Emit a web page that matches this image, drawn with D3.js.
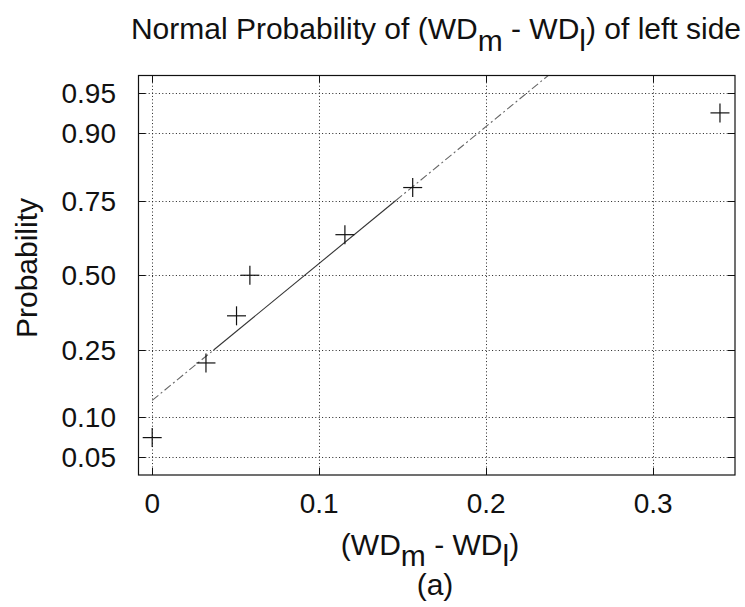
<!DOCTYPE html>
<html>
<head>
<meta charset="utf-8">
<script src="https://cdn.jsdelivr.net/npm/d3@7"></script>
<style>
  html, body { margin: 0; padding: 0; background: #fff; }
  svg { display: block; }
  text { font-family: "Liberation Sans", Arial, sans-serif; fill: #111; }
</style>
</head>
<body>
<svg id="chart" width="745" height="607"></svg>
<script>
// ---- data ----
const dataX = [0, 0.0322, 0.0505, 0.0585, 0.1154, 0.156, 0.340];
const dataP = [0.0714, 0.2143, 0.3571, 0.5, 0.6429, 0.7857, 0.9286];
const quartileX = [0.0368, 0.1459];      // 25th / 75th percentile of data
const quartileP = [0.25, 0.75];
const xTicks = [0, 0.1, 0.2, 0.3];
const xTickLabels = ["0", "0.1", "0.2", "0.3"];
const yTicks = [0.05, 0.10, 0.25, 0.50, 0.75, 0.90, 0.95];
const yTickLabels = ["0.05", "0.10", "0.25", "0.50", "0.75", "0.90", "0.95"];
const xDomain = [-0.0082, 0.349];
const pDomain = [0.0357, 0.9643];

// inverse standard normal CDF (Acklam)
function probit(p) {
  const a = [-3.969683028665376e+01, 2.209460984245205e+02, -2.759285104469687e+02, 1.383577518672690e+02, -3.066479806614716e+01, 2.506628277459239e+00];
  const b = [-5.447609879822406e+01, 1.615858368580409e+02, -1.556989798598866e+02, 6.680131188771972e+01, -1.328068155288572e+01];
  const c = [-7.784894002430293e-03, -3.223964580411365e-01, -2.400758277161838e+00, -2.549732539343734e+00, 4.374664141464968e+00, 2.938163982698783e+00];
  const d = [7.784695709041462e-03, 3.224671290700398e-01, 2.445134137142996e+00, 3.754408661907416e+00];
  const pl = 0.02425, ph = 1 - pl;
  let q, r;
  if (p < pl) {
    q = Math.sqrt(-2 * Math.log(p));
    return (((((c[0]*q+c[1])*q+c[2])*q+c[3])*q+c[4])*q+c[5]) / ((((d[0]*q+d[1])*q+d[2])*q+d[3])*q+1);
  } else if (p <= ph) {
    q = p - 0.5; r = q*q;
    return (((((a[0]*r+a[1])*r+a[2])*r+a[3])*r+a[4])*r+a[5])*q / (((((b[0]*r+b[1])*r+b[2])*r+b[3])*r+b[4])*r+1);
  } else {
    q = Math.sqrt(-2 * Math.log(1 - p));
    return -(((((c[0]*q+c[1])*q+c[2])*q+c[3])*q+c[4])*q+c[5]) / ((((d[0]*q+d[1])*q+d[2])*q+d[3])*q+1);
  }
}

const L = 138.5, R = 735, T = 75.5, B = 475;
const svg = d3.select("#chart");

const x = d3.scaleLinear().domain(xDomain).range([L, R]);
const z = d3.scaleLinear().domain(pDomain.map(probit)).range([B, T]);
const y = p => z(probit(p));

svg.append("defs").append("clipPath").attr("id", "clip")
  .append("rect").attr("x", L).attr("y", T).attr("width", R - L).attr("height", B - T);

// grid
const grid = svg.append("g").attr("stroke", "#222").attr("stroke-width", 1)
  .attr("stroke-dasharray", "1,2.4");
grid.selectAll("line.vx").data(xTicks).join("line")
  .attr("x1", d => Math.round(x(d)) + 0.5).attr("x2", d => Math.round(x(d)) + 0.5)
  .attr("y1", T).attr("y2", B);
grid.selectAll("line.hy").data(yTicks).join("line")
  .attr("y1", d => Math.round(y(d)) + 0.5).attr("y2", d => Math.round(y(d)) + 0.5)
  .attr("x1", L).attr("x2", R);

// inward ticks
const tl = 7;
const ticks = svg.append("g").attr("stroke", "#111").attr("stroke-width", 1);
xTicks.forEach(t => {
  const px = Math.round(x(t)) + 0.5;
  ticks.append("line").attr("x1", px).attr("x2", px).attr("y1", B).attr("y2", B - tl);
  ticks.append("line").attr("x1", px).attr("x2", px).attr("y1", T).attr("y2", T + tl);
});
yTicks.forEach(t => {
  const py = Math.round(y(t)) + 0.5;
  ticks.append("line").attr("x1", L).attr("x2", L + tl).attr("y1", py).attr("y2", py);
  ticks.append("line").attr("x1", R).attr("x2", R - tl).attr("y1", py).attr("y2", py);
});

// reference line through quartiles
const zq = quartileP.map(probit);
const slope = (zq[1] - zq[0]) / (quartileX[1] - quartileX[0]);
const lineZ = xv => zq[0] + slope * (xv - quartileX[0]);
const xmin = d3.min(dataX), xmax = d3.max(dataX);
const plot = svg.append("g").attr("clip-path", "url(#clip)");
function seg(x0, x1, dash, color) {
  plot.append("line")
    .attr("x1", x(x0)).attr("y1", z(lineZ(x0)))
    .attr("x2", x(x1)).attr("y2", z(lineZ(x1)))
    .attr("stroke", color).attr("stroke-width", 1.1)
    .attr("stroke-dasharray", dash);
}
seg(xmin, quartileX[0], "8,3,2,3", "#666");
seg(quartileX[0], quartileX[1], null, "#333");
seg(quartileX[1], xmax, "8,3,2,3", "#666");

// markers
const ms = 9.5;
const pts = svg.append("g").attr("stroke", "#111").attr("stroke-width", 1.2);
dataX.forEach((xv, i) => {
  const px = x(xv), py = y(dataP[i]);
  pts.append("line").attr("x1", px - ms).attr("x2", px + ms).attr("y1", py).attr("y2", py);
  pts.append("line").attr("x1", px).attr("x2", px).attr("y1", py - ms).attr("y2", py + ms);
});

// box
svg.append("rect").attr("x", L).attr("y", T).attr("width", R - L).attr("height", B - T)
  .attr("fill", "none").attr("stroke", "#111").attr("stroke-width", 1.2);

// tick labels
svg.append("g").selectAll("text").data(xTicks).join("text")
  .attr("x", d => x(d)).attr("y", 513).attr("text-anchor", "middle")
  .attr("font-size", 28).text((d, i) => xTickLabels[i]);
svg.append("g").selectAll("text").data(yTicks).join("text")
  .attr("x", 116).attr("y", d => y(d) + 10).attr("text-anchor", "end")
  .attr("font-size", 28).text((d, i) => yTickLabels[i]);

// title
const title = svg.append("text").attr("x", 436).attr("y", 39).attr("text-anchor", "middle")
  .attr("font-size", 30);
title.append("tspan").text("Normal Probability of (WD");
title.append("tspan").attr("dy", 12).text("m");
title.append("tspan").attr("dy", -12).text(" - WD");
title.append("tspan").attr("dy", 12).text("l");
title.append("tspan").attr("dy", -12).text(") of left side");

// x label
const xl = svg.append("text").attr("x", 430).attr("y", 555).attr("text-anchor", "middle")
  .attr("font-size", 30);
xl.append("tspan").text("(WD");
xl.append("tspan").attr("dy", 11).text("m");
xl.append("tspan").attr("dy", -11).text(" - WD");
xl.append("tspan").attr("dy", 11).text("l");
xl.append("tspan").attr("dy", -11).text(")");

svg.append("text").attr("x", 435).attr("y", 595).attr("text-anchor", "middle")
  .attr("font-size", 30).text("(a)");

// y label
svg.append("text").attr("transform", "translate(37,268) rotate(-90)")
  .attr("text-anchor", "middle").attr("font-size", 30).text("Probability");
</script>
</body>
</html>
